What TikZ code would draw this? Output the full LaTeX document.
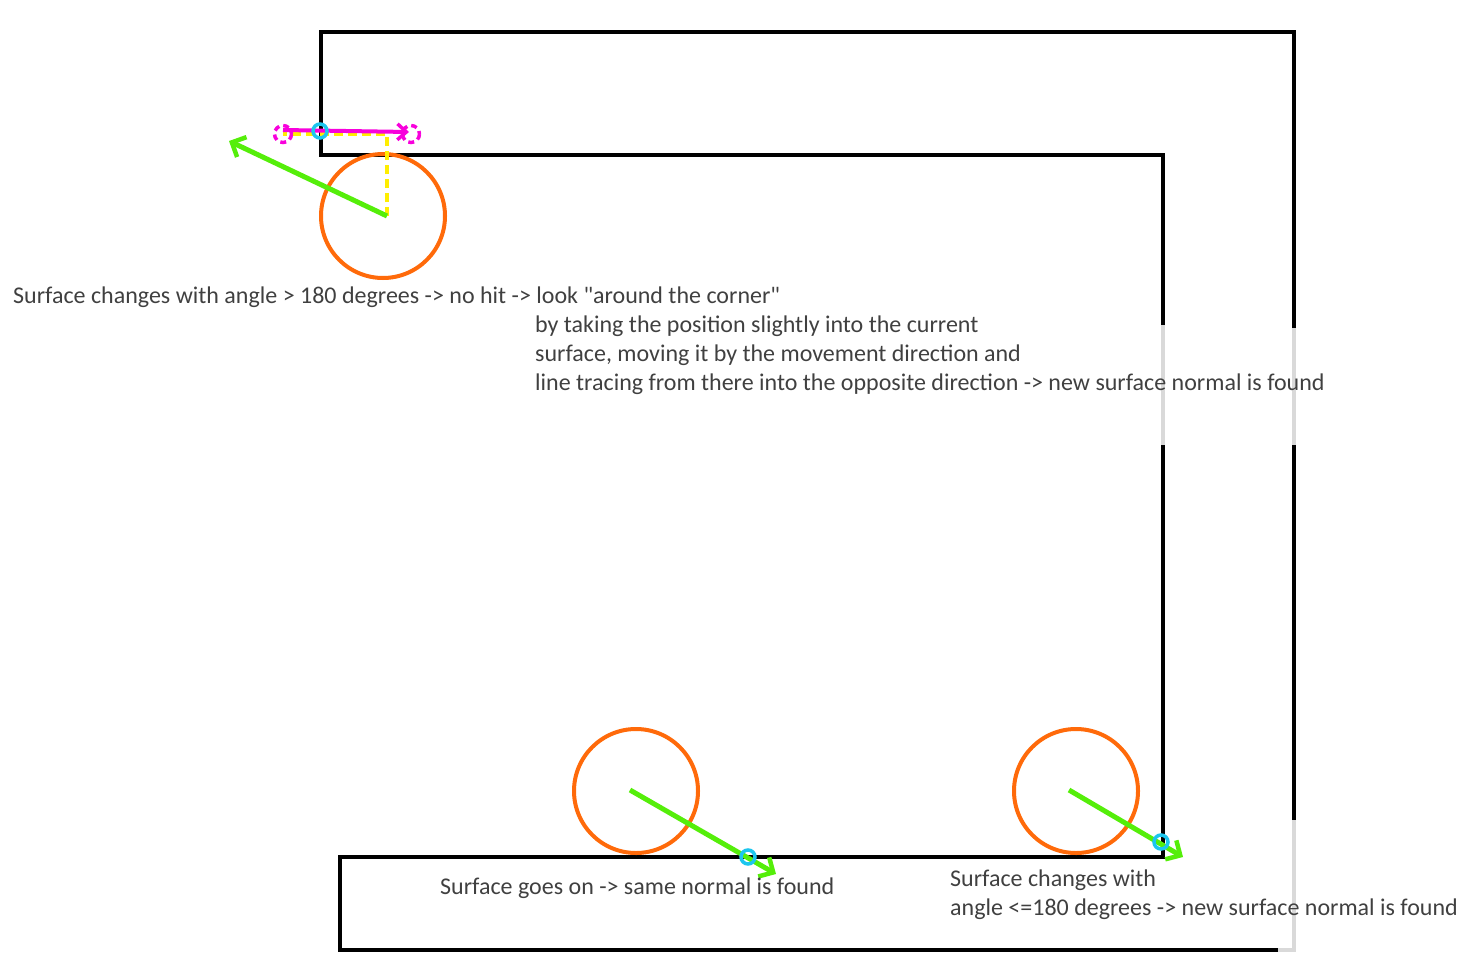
\documentclass[tikz,border=0pt]{standalone}
\usepackage{fontspec}
\setmainfont{Carlito}[Ligatures=TeXOff]
\usetikzlibrary{arrows.meta, positioning}
\definecolor{ink}{HTML}{404040}
\definecolor{lime}{HTML}{55EE0A}
\definecolor{tangerine}{HTML}{FF6A0A}
\definecolor{aqua}{HTML}{1CC6EE}
\definecolor{pinkish}{HTML}{F800DC}
\definecolor{lemon}{HTML}{FFEE00}
\definecolor{ghostgray}{HTML}{D9D9D9}
\tikzset{
  wall/.style={draw=black, line width=4.5pt},
  ghost/.style={draw=ghostgray, line width=4.5pt},
  ball/.style={circle, draw=tangerine, line width=4pt, minimum size=124pt, inner sep=0pt},
  hit/.style={circle, draw=aqua, line width=3.5pt, minimum size=14pt, inner sep=0pt},
  normal/.style={-{Straight Barb[length=11pt, width=22pt, line width=4.5pt]}, draw=lime, line width=5pt},
  probe/.style={-{Straight Barb[length=9pt, width=16pt, line width=3.5pt]}, draw=pinkish, line width=4pt},
  ring/.style={draw=pinkish, line width=3.5pt, dash pattern=on 6pt off 4pt},
  guide/.style={draw=lemon, line width=4pt, dash pattern=on 9pt off 5pt},
  note/.style={text=ink, font=\fontsize{24}{29}\selectfont, inner sep=0pt, align=left, anchor=base west},
}
\begin{document}
\begin{tikzpicture}[x=1pt, y=-1pt]
  \useasboundingbox (0,0) rectangle (1469,977);
  % upper wall
  \draw[wall] (1294,328) -- (1294,32) -- (321,32) -- (321,155) -- (1163,155) -- (1163,325);
  \draw[ghost] (1163,325) -- (1163,445);
  \draw[ghost] (1294,328) -- (1294,445);
  \draw[wall] (1294,445) -- (1294,820);
  \draw[ghost] (1294,820) -- (1294,950) -- (1278,950);
  % lower wall
  \draw[wall] (1163,445) -- (1163,857) -- (340,857) -- (340,950) -- (1278,950);

  % balls
  \node[ball] (ballcorner) at (383,216) {};
  \node[ball] (ballflat) at (636,791) {};
  \node[ball] (ballinner) at (1076,791) {};

  \coordinate (ccorner) at (387,216);
  \coordinate (cflat) at (630,790);
  \coordinate (cinner) at (1069,790);
  \coordinate (ncorner) at (229,141);
  \coordinate (nflat) at (776,874);
  \coordinate (ninner) at (1183,857);

  % look around the corner
  \coordinate (pstart) at (283,130);
  \coordinate (pend) at (409,132);
  \coordinate (pfoot) at (387,134);
  \draw[guide] (ccorner) -- (pfoot) -- (283,134);
  \draw[ring] (283,134) circle (8.5);
  \draw[ring] (411,134) circle (8.5);
  \draw[probe] (pstart) -- (pend);

  % normals
  \draw[normal] (ccorner) -- (ncorner);
  \draw[normal] (cflat) -- (nflat);
  \draw[normal] (cinner) -- (ninner);

  % hits
  \node[hit] (hitcorner) at (320,131) {};
  \node[hit] (hitflat) at (748,857) {};
  \node[hit] (hitinner) at (1161,842) {};

  % notes
  \node[note] (notecorner) at (13,303) {Surface changes with angle > 180 degrees -> no hit -> look "around the corner"};
  \node[note] (notetrace) at (535,390) {by taking the position slightly into the current\\surface, moving it by the movement direction and\\line tracing from there into the opposite direction -> new surface normal is found};
  \node[note] (noteflat) at (440,894) {Surface goes on -> same normal is found};
  \node[note] (noteinner) at (950,915) {Surface changes with\\angle <=180 degrees -> new surface normal is found};
\end{tikzpicture}
\end{document}
